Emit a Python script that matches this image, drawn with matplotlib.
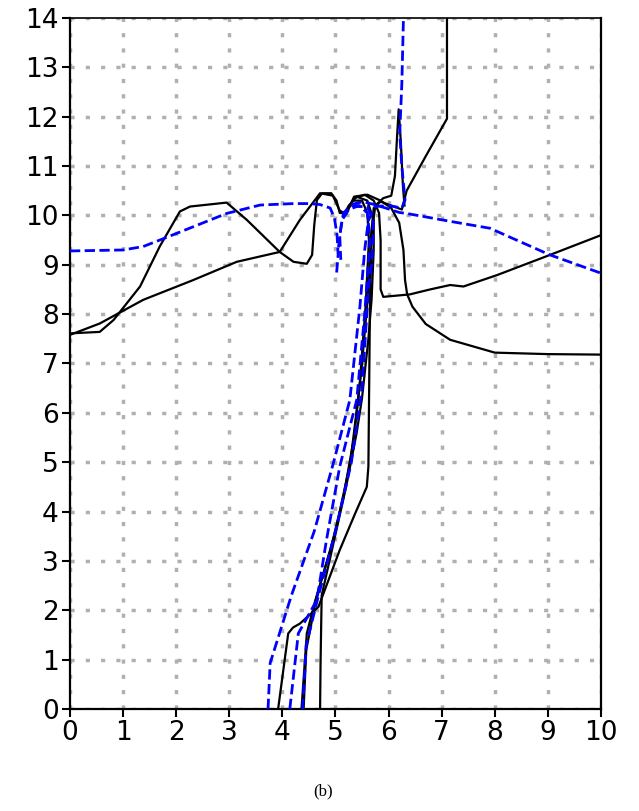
import matplotlib
matplotlib.use('Agg')
import matplotlib.pyplot as plt

# solid black curves (x, y pairs)
black_a_x = [0.0, 0.56, 0.82, 1.32, 1.69, 2.07, 2.26, 2.95, 3.33, 3.95, 4.21, 4.46, 4.56, 4.6, 4.65,
             4.75, 4.92, 5.02, 5.08, 5.2, 5.35, 5.55, 5.72, 5.82, 5.85, 5.85, 5.9, 6.4, 6.78, 7.16,
             7.41, 8.04, 9.04, 10.0]
black_a_y = [7.61, 7.64, 7.88, 8.56, 9.37, 10.08, 10.18, 10.26, 9.91, 9.26, 9.06, 9.02, 9.2, 9.8, 10.31,
             10.45, 10.45, 10.3, 10.05, 10.05, 10.35, 10.42, 10.3, 10.05, 9.5, 8.5, 8.35, 8.4, 8.5, 8.59,
             8.56, 8.79, 9.2, 9.6]

black_b_x = [0.0, 0.56, 1.38, 2.32, 3.14, 3.95, 4.33, 4.71, 4.95, 5.08, 5.2, 5.35, 5.6, 5.85, 6.05,
             6.2, 6.28, 6.31, 6.35, 6.45, 6.7, 7.16, 8.0, 9.0, 10.0]
black_b_y = [7.58, 7.81, 8.29, 8.69, 9.06, 9.26, 9.91, 10.45, 10.4, 10.1, 10.02, 10.38, 10.42, 10.3, 10.15,
             9.85, 9.3, 8.69, 8.4, 8.15, 7.8, 7.48, 7.22, 7.19, 7.18]

black_c_x = [4.71, 4.72, 4.74, 4.95, 5.2, 5.4, 5.5, 5.62, 5.68, 5.72, 5.72, 5.6, 5.4, 5.25, 5.15]
black_c_y = [0.0, 1.0, 2.3, 3.3, 4.5, 5.6, 6.3, 7.5, 8.3, 9.3, 9.9, 10.3, 10.38, 10.2, 10.0]

black_d_x = [3.92, 4.11, 4.2, 4.33, 4.68, 5.08, 5.37, 5.59, 5.62, 5.65, 5.68, 5.75, 5.9, 6.05,
             6.12, 6.16, 6.19, 6.23, 6.27, 6.3]
black_d_y = [0.0, 1.53, 1.65, 1.73, 2.07, 3.22, 3.96, 4.5, 4.91, 8.29, 9.6, 10.2, 10.35, 10.4,
             10.8, 11.6, 12.15, 11.5, 10.6, 10.2]

black_e_x = [4.36, 4.46, 4.62, 4.9, 5.15, 5.35, 5.5, 5.62, 5.67, 5.72, 5.85, 6.05, 6.25, 6.34,
             6.7, 7.1, 7.1]
black_e_y = [0.0, 1.53, 2.2, 3.2, 4.3, 5.5, 7.0, 8.5, 9.6, 10.15, 10.28, 10.2, 10.12, 10.5,
             11.2, 11.96, 14.0]

black_f_x = [4.4, 4.45, 4.64, 5.0, 5.28, 5.45, 5.57, 5.63, 5.6, 5.5, 5.35]
black_f_y = [0.0, 1.2, 2.25, 3.6, 5.0, 6.5, 8.2, 9.5, 10.05, 10.3, 10.3]

# dashed blue curves
blue_a_x = [0.0, 1.0, 1.38, 1.76, 2.32, 2.95, 3.58, 4.21, 4.52, 4.71, 4.9, 4.98, 5.03, 5.05, 5.02]
blue_a_y = [9.28, 9.3, 9.37, 9.53, 9.77, 10.04, 10.21, 10.24, 10.24, 10.22, 10.15, 9.95, 9.6, 9.2, 8.82]

blue_b_x = [5.3, 5.52, 5.8, 6.03, 6.2, 6.34, 7.16, 7.91, 8.41, 9.04, 10.0]
blue_b_y = [10.22, 10.28, 10.2, 10.12, 10.06, 10.04, 9.88, 9.74, 9.5, 9.2, 8.83]

blue_c_x = [3.73, 3.77, 4.17, 4.6, 4.96, 5.27, 5.46, 5.55, 5.62, 5.75, 6.0, 6.25, 6.31, 6.25, 6.21,
            6.25, 6.28]
blue_c_y = [0.0, 0.93, 2.3, 3.6, 4.98, 6.26, 8.15, 9.3, 9.9, 10.18, 10.2, 10.15, 10.31, 10.99, 11.66,
            12.68, 14.0]

blue_d_x = [4.14, 4.3, 4.65, 4.83, 5.08, 5.4, 5.55, 5.65, 5.6, 5.45, 5.3, 5.15, 5.08, 5.1]
blue_d_y = [0.0, 1.53, 2.21, 3.42, 4.91, 6.26, 8.0, 9.5, 10.05, 10.2, 10.2, 10.05, 9.6, 9.1]

blue_e_x = [4.38, 4.45, 4.68, 5.0, 5.3, 5.5, 5.62, 5.68, 5.71, 5.71, 5.6, 5.4, 5.25, 5.12, 5.05]
blue_e_y = [0.0, 1.3, 2.3, 3.6, 5.0, 6.5, 8.5, 9.0, 9.57, 9.9, 10.18, 10.18, 10.12, 9.9, 9.3]

black_curves = [(black_a_x, black_a_y), (black_b_x, black_b_y), (black_c_x, black_c_y),
                (black_d_x, black_d_y), (black_e_x, black_e_y), (black_f_x, black_f_y)]
blue_curves = [(blue_a_x, blue_a_y), (blue_b_x, blue_b_y), (blue_c_x, blue_c_y),
               (blue_d_x, blue_d_y), (blue_e_x, blue_e_y)]

x_ticks = list(range(0, 11))
y_ticks = list(range(0, 15))

fig = plt.figure(figsize=(6.39, 8.11), dpi=100)
ax = fig.add_axes([0.1095, 0.1258, 0.8310, 0.8520])

for xs, ys in black_curves:
    ax.plot(xs, ys, color='black', linewidth=1.6, zorder=3)
for xs, ys in blue_curves:
    ax.plot(xs, ys, color='blue', linewidth=2.0, linestyle='--', zorder=4)

ax.set_xlim(0, 10)
ax.set_ylim(0, 14)
ax.set_xticks(x_ticks)
ax.set_yticks(y_ticks)
ax.tick_params(labelsize=19, length=6, width=1.5, colors='black', pad=2)
ax.grid(True, color='#b0b0b0', linestyle=(0, (1.2, 3.2)), linewidth=2.5)
ax.set_axisbelow(True)
for side in ['left', 'bottom', 'right']:
    ax.spines[side].set_linewidth(1.6)
ax.spines['top'].set_linewidth(1.2)

fig.text(0.505, 0.024, '(b)', ha='center', va='center', fontsize=12,
         family='Liberation Serif')

fig.savefig('out.png', dpi=100)
